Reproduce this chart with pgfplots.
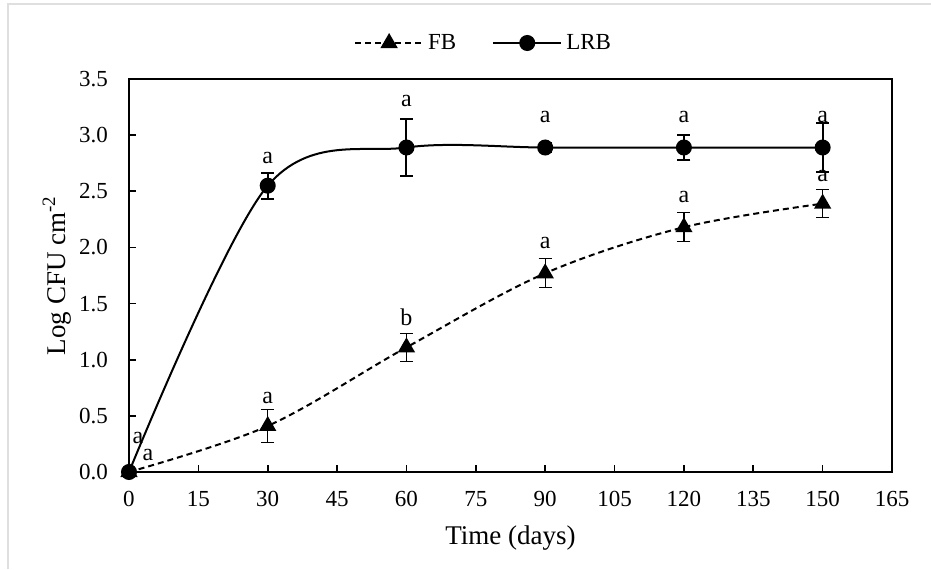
\documentclass[border=0pt]{standalone}
\usepackage{pgfplots}
\pgfplotsset{compat=1.18}
\usepackage{fontspec}
\setmainfont{Liberation Serif}

\pgfplotstableread{
x y e
0 0 0
30 0.41 0.15
60 1.11 0.125
90 1.77 0.13
120 2.18 0.13
150 2.39 0.125
}\fbdata
\pgfplotstableread{
x y e
0 0 0
30 2.55 0.115
60 2.89 0.25
90 2.89 0.04
120 2.89 0.11
150 2.89 0.22
}\lrbdata

\begin{document}
\begin{tikzpicture}
\path[use as bounding box] (-64.5pt,-48.5pt) rectangle (401pt,236pt);
\begin{axis}[
  at={(0pt,0pt)}, anchor=south west,
  scale only axis, width=381.5pt, height=196.5pt,
  xmin=0, xmax=165, ymin=0, ymax=3.5,
  xtick={0,15,...,165},
  ytick={0,0.5,1,1.5,2,2.5,3,3.5},
  axis line style={line width=1pt},
  tick style={black, line width=0.8pt},
  major tick length=3.5pt,
  tick align=inside,
  xtick pos=bottom, ytick pos=left,
  /pgf/number format/assume math mode=true,
  xticklabel style={font={\fontsize{11.5}{13}\selectfont}, yshift=-6pt},
  yticklabel style={font={\fontsize{11.5}{13}\selectfont}, xshift=-7pt,
    /pgf/number format/fixed, /pgf/number format/fixed zerofill,
    /pgf/number format/precision=1},
  xlabel={Time (days)},
  ylabel={Log CFU cm\textsuperscript{-2}},
  every axis x label/.style={at={(axis description cs:0.5,-0.168)}, anchor=center,
    font={\fontsize{13.5}{16}\selectfont}},
  every axis y label/.style={at={(axis description cs:-0.0944,0.5)}, rotate=90, anchor=center,
    font={\fontsize{13.5}{16}\selectfont}},
  legend style={at={(0.466,1.0916)}, anchor=center, draw=none, fill=none,
    legend columns=2, font={\fontsize{11.5}{13}\selectfont},
    /tikz/every even column/.append style={column sep=16pt}},
  legend image code/.code={\draw[mark repeat=2,mark phase=2,#1] plot coordinates {(0pt,0pt) (17pt,0pt) (34pt,0pt)};},
]
\addplot[black, line width=1pt, dash pattern=on 3pt off 2pt, smooth, tension=0.55,
  mark=triangle*, mark size=4pt, mark options={solid, fill=black},
  error bars/.cd, y dir=both, y explicit,
  error bar style={line width=0.6pt, solid},
  error mark options={rotate=90, mark size=3.25pt, line width=0.6pt, solid}]
  table[x=x, y=y, y error=e] {\fbdata};
\addlegendentry{FB}
\addplot[black, line width=1pt, smooth, tension=0.55,
  mark=*, mark size=3.5pt, mark options={solid, fill=black},
  error bars/.cd, y dir=both, y explicit,
  error bar style={line width=1pt},
  error mark options={rotate=90, mark size=3.25pt, line width=1pt}]
  table[x=x, y=y, y error=e] {\lrbdata};
\addlegendentry{LRB}
\begin{scope}[every node/.style={font={\fontsize{12}{14}\selectfont}, inner sep=0pt}]
\node at (axis cs:30,2.80) {a};
\node at (axis cs:60,3.30) {a};
\node at (axis cs:90,3.16) {a};
\node at (axis cs:120,3.16) {a};
\node at (axis cs:150,3.16) {a};
\node at (axis cs:30,0.66) {a};
\node at (axis cs:60,1.38) {b};
\node at (axis cs:90,2.04) {a};
\node at (axis cs:120,2.45) {a};
\node at (axis cs:150,2.64) {a};
\node at (axis cs:1.95,0.30) {a};
\node at (axis cs:4.1,0.15) {a};
\end{scope}
\end{axis}
\draw[gray!25, line width=1pt] (-60.5pt,-48.5pt) -- (-60.5pt,234pt) -- (401pt,234pt);
\end{tikzpicture}
\end{document}
